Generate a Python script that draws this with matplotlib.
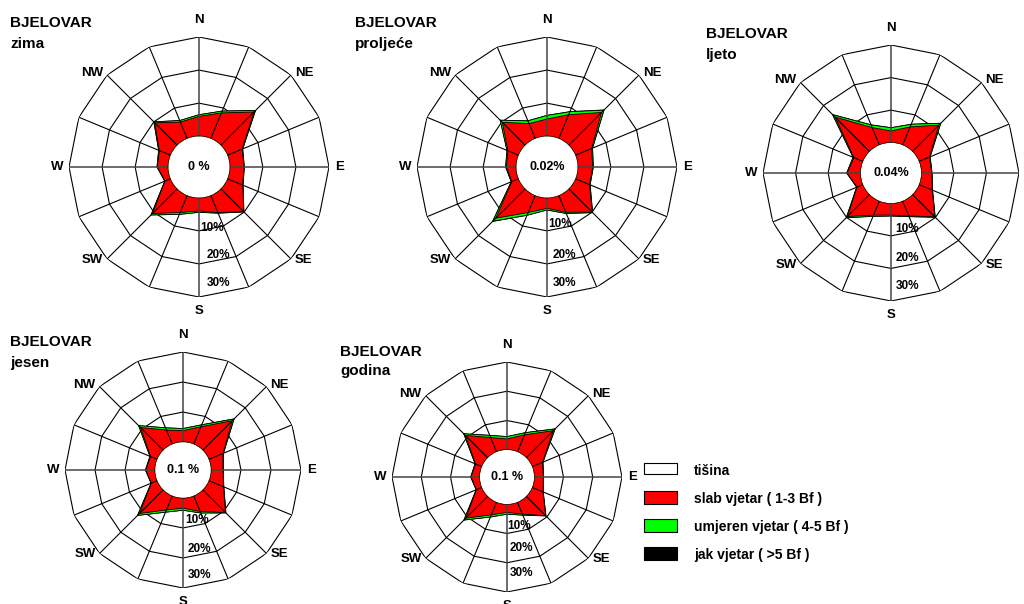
import numpy as np
import matplotlib
matplotlib.use('Agg')
import matplotlib.pyplot as plt
from matplotlib.patches import Rectangle

plt.rcParams['font.family'] = ['Liberation Sans', 'DejaVu Sans']
plt.rcParams['font.weight'] = 'bold'

# ---------------- data ----------------
directions = ['N', 'NNE', 'NE', 'ENE', 'E', 'ESE', 'SE', 'SSE',
              'S', 'SSW', 'SW', 'WSW', 'W', 'WNW', 'NW', 'NNW']
compass_labels = ['N', 'NE', 'E', 'SE', 'S', 'SW', 'W', 'NW']
ring_levels = [10, 20, 30]
ring_labels = ['10%', '20%', '30%']
station = 'BJELOVAR'
periods = ['zima', 'proljeće', 'ljeto', 'jesen', 'godina']
calm_labels = ['0 %', '0.02%', '0.04%', '0.1 %', '0.1 %']

# frequency (%) per direction: slab (1-3 Bf), umjeren (4-5 Bf), jak (>5 Bf)
slab_zima = [6.0, 8.4, 14.2, 4.8, 4.3, 5.0, 9.8, 5.6, 4.0, 5.6, 10.6, 1.8, 3.3, 3.7, 9.6, 5.4]
umjeren_zima = [0.5, 0.6, 0.6, 0.2, 0.1, 0.1, 0.1, 0.2, 0.4, 0.6, 0.6, 0.1, 0.1, 0.2, 0.4, 0.5]
jak_zima = [0.0, 0.0, 0.1, 0.0, 0.0, 0.0, 0.0, 0.0, 0.0, 0.0, 0.0, 0.0, 0.0, 0.0, 0.0, 0.0]

slab_proljece = [5.2, 7.8, 14.0, 5.3, 4.5, 4.6, 10.0, 5.5, 3.2, 5.6, 12.6, 2.2, 3.0, 3.5, 9.8, 4.9]
umjeren_proljece = [1.1, 1.0, 1.0, 0.3, 0.2, 0.2, 0.2, 0.4, 0.5, 0.9, 1.3, 0.2, 0.2, 0.3, 0.9, 0.9]
jak_proljece = [0.0, 0.0, 0.1, 0.0, 0.0, 0.0, 0.0, 0.0, 0.0, 0.0, 0.1, 0.0, 0.0, 0.0, 0.0, 0.0]

slab_ljeto = [3.6, 6.0, 11.5, 3.5, 3.2, 4.4, 9.7, 5.0, 3.6, 4.7, 9.6, 2.0, 4.2, 3.0, 15.0, 5.8]
umjeren_ljeto = [1.0, 0.9, 0.8, 0.2, 0.1, 0.1, 0.2, 0.2, 0.3, 0.4, 0.5, 0.1, 0.1, 0.3, 1.0, 0.9]
jak_ljeto = [0.0, 0.0, 0.0, 0.0, 0.0, 0.0, 0.0, 0.0, 0.0, 0.0, 0.0, 0.0, 0.0, 0.0, 0.1, 0.0]

slab_jesen = [3.8, 6.3, 13.9, 5.1, 4.0, 5.3, 10.7, 5.7, 3.4, 5.1, 11.2, 2.1, 3.1, 2.4, 10.7, 5.1]
umjeren_jesen = [0.7, 0.7, 0.8, 0.2, 0.1, 0.1, 0.2, 0.5, 0.7, 0.8, 0.9, 0.1, 0.1, 0.2, 0.9, 0.8]
jak_jesen = [0.0, 0.0, 0.1, 0.0, 0.0, 0.0, 0.0, 0.0, 0.0, 0.0, 0.0, 0.0, 0.0, 0.0, 0.0, 0.0]

slab_godina = [3.7, 6.3, 13.1, 3.8, 3.1, 4.0, 9.4, 4.4, 2.8, 4.7, 10.6, 2.0, 3.0, 2.3, 10.8, 5.3]
umjeren_godina = [0.8, 0.8, 0.8, 0.2, 0.1, 0.1, 0.1, 0.4, 0.6, 0.8, 0.9, 0.1, 0.1, 0.2, 0.8, 0.8]
jak_godina = [0.0, 0.0, 0.1, 0.0, 0.0, 0.0, 0.0, 0.0, 0.0, 0.0, 0.0, 0.0, 0.0, 0.0, 0.0, 0.0]

legend_labels = ['tišina', 'slab vjetar ( 1-3 Bf )', 'umjeren vjetar ( 4-5 Bf )', 'jak vjetar ( >5 Bf )']
legend_colors = ['white', '#ff0000', '#00ff00', 'black']

# ---------------- layout ----------------
W, H = 1024, 604
fig = plt.figure(figsize=(W / 100, H / 100), dpi=100)
PX = 0.72  # points per pixel

overlay = fig.add_axes([0, 0, 1, 1])
overlay.set_xlim(0, W)
overlay.set_ylim(H, 0)
overlay.axis('off')

RORIG = 9.3
layout = [
    dict(cx=199, cy=167, R=130, tx=10, ty1=27, ty2=48, rl=[9.1, 17.3, 25.8], rdx=[1, 8, 8], hide=[]),
    dict(cx=547, cy=167, R=130, tx=355, ty1=27, ty2=48, rl=[7.8, 17.4, 25.9], rdx=[1, 6, 6], hide=[]),
    dict(cx=891, cy=173, R=128, tx=706, ty1=38, ty2=59, rl=[8.0, 16.8, 25.4], rdx=[4, 5, 5], hide=['E']),
    dict(cx=183, cy=470, R=118, tx=10, ty1=346, ty2=367, rl=[7.3, 17.0, 25.7], rdx=[2, 5, 5], hide=[]),
    dict(cx=507, cy=477, R=115, tx=340, ty1=356, ty2=375, rl=[7.4, 14.8, 23.5], rdx=[0, 3, 3], hide=[]),
]
series = [
    (slab_zima, umjeren_zima, jak_zima),
    (slab_proljece, umjeren_proljece, jak_proljece),
    (slab_ljeto, umjeren_ljeto, jak_ljeto),
    (slab_jesen, umjeren_jesen, jak_jesen),
    (slab_godina, umjeren_godina, jak_godina),
]

theta = np.deg2rad(np.arange(len(directions)) * 22.5)
tc = np.append(theta, theta[0])


def closed(v):
    v = np.asarray(v, dtype=float)
    return np.append(v, v[0])


label_offsets = {
    'N': (0, 11, 'center', 'bottom'), 'S': (0, -8, 'center', 'top'),
    'E': (6, 0, 'left', 'center'), 'W': (-6, 0, 'right', 'center'),
    'NE': (4, 2, 'left', 'center'), 'NW': (-4, 2, 'right', 'center'),
    'SE': (4, -1, 'left', 'center'), 'SW': (-4, -1, 'right', 'center'),
}

for k, (lay, (slab, umj, jak)) in enumerate(zip(layout, series)):
    cx, cy, R = lay['cx'], lay['cy'], lay['R']
    ax = fig.add_axes([(cx - R) / W, (H - cy - R) / H, 2 * R / W, 2 * R / H],
                      projection='polar')
    ax.set_theta_zero_location('N')
    ax.set_theta_direction(-1)
    ax.set_ylim(0, 30)
    ax.set_rorigin(-RORIG)
    ax.axis('off')

    # polygonal rings
    for lev in ring_levels:
        ax.plot(tc, np.full(tc.shape, lev), color='black', lw=0.8, zorder=1)

    s1 = np.asarray(slab, float)
    s2 = s1 + np.asarray(umj, float)
    s3 = s2 + np.asarray(jak, float)
    ax.fill(tc, closed(s3), facecolor='black', edgecolor='black', lw=0.6, zorder=2)
    ax.fill(tc, closed(s2), facecolor='#00ff00', edgecolor='black', lw=0.6, zorder=3)
    ax.fill(tc, closed(s1), facecolor='#ff0000', edgecolor='black', lw=0.6, zorder=4)

    # spokes
    for i, th in enumerate(theta):
        main = (i % 4 == 0)
        ax.plot([th, th], [0, 30], color='#444444' if main else 'black',
                lw=1.1 if main else 0.8, zorder=5)

    # calm circle
    tf = np.linspace(0, 2 * np.pi, 241)
    ax.fill(tf, np.zeros_like(tf), facecolor='white', edgecolor='black', lw=0.8, zorder=6)
    ax.text(0.5, 0.5, calm_labels[k], transform=ax.transAxes, ha='center', va='center',
            fontsize=9, fontweight='bold', zorder=7)

    # ring labels
    for lev_lab, rr, dx in zip(ring_labels, lay['rl'], lay['rdx']):
        ax.annotate(lev_lab, xy=(np.pi, rr), xytext=(dx * PX, 0), textcoords='offset points',
                    ha='left', va='center', fontsize=8.5, fontweight='bold', zorder=7,
                    annotation_clip=False)

    # compass labels
    for j, lab in enumerate(compass_labels):
        if lab in lay['hide']:
            continue
        dx, dy, ha, va = label_offsets[lab]
        ax.annotate(lab, xy=(np.deg2rad(j * 45), 30), xytext=(dx * PX, dy * PX),
                    textcoords='offset points', ha=ha, va=va, fontsize=9.5,
                    fontweight='bold', annotation_clip=False)

    # titles
    overlay.text(lay['tx'], lay['ty1'], station, ha='left', va='baseline',
                 fontsize=11, fontweight='bold')
    overlay.text(lay['tx'], lay['ty2'], periods[k], ha='left', va='baseline',
                 fontsize=11, fontweight='bold')

# legend
box_y = [463, 491, 519, 547]
for y, lab, col in zip(box_y, legend_labels, legend_colors):
    overlay.add_patch(Rectangle((644, y), 33, 11 if col == 'white' else 12.5,
                                facecolor=col, edgecolor='black', lw=0.8))
    overlay.text(694, y + 8, lab, ha='left', va='center', fontsize=10, fontweight='bold')

fig.savefig('out.png', dpi=100)
